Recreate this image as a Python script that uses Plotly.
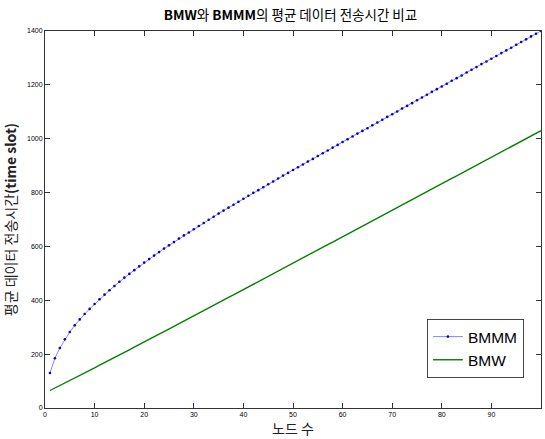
import plotly.graph_objects as go

nodes = list(range(1, 101))

bmmm = [130, 185, 223, 255, 282, 307, 329, 349, 368, 386,
        404, 421, 437, 453, 469, 484, 498, 512, 526, 540,
        553, 566, 579, 592, 604, 616, 629, 641, 652, 664,
        676, 687, 699, 710, 722, 733, 744, 755, 766, 777,
        788, 799, 809, 820, 831, 841, 852, 863, 873, 884,
        894, 904, 915, 925, 936, 946, 956, 967, 977, 988,
        998, 1008, 1019, 1029, 1039, 1050, 1060, 1070, 1081, 1091,
        1101, 1112, 1122, 1132, 1143, 1153, 1163, 1174, 1184, 1194,
        1204, 1215, 1225, 1235, 1246, 1256, 1266, 1277, 1287, 1297,
        1307, 1318, 1328, 1338, 1349, 1359, 1369, 1380, 1390, 1400]

bmw = [65, 74, 84, 93, 102, 112, 121, 130, 140, 149,
       159, 168, 178, 187, 197, 207, 216, 226, 235, 245,
       255, 264, 274, 284, 294, 303, 313, 323, 332, 342,
       352, 362, 371, 381, 391, 401, 411, 420, 430, 440,
       450, 460, 469, 479, 489, 499, 509, 518, 528, 538,
       548, 558, 567, 577, 587, 597, 607, 616, 626, 636,
       646, 656, 665, 675, 685, 695, 705, 714, 724, 734,
       744, 754, 764, 774, 784, 793, 803, 813, 823, 833,
       843, 853, 862, 872, 882, 892, 902, 911, 921, 931,
       941, 951, 961, 971, 981, 990, 1000, 1010, 1020, 1030]

x_ticks = list(range(0, 101, 10))
y_ticks = list(range(0, 1401, 200))

fig = go.Figure()
fig.add_trace(go.Scatter(
    x=nodes, y=bmmm, name="BMMM", mode="lines+markers",
    line=dict(color="#8585ff", width=1),
    marker=dict(color="#0000c8", size=2.6),
))
fig.add_trace(go.Scatter(
    x=nodes, y=bmw, name="BMW", mode="lines",
    line=dict(color="#008000", width=1.4),
))

axis_common = dict(
    showline=True, linecolor="#333333", linewidth=1, mirror="ticks",
    ticks="inside", ticklen=5, tickcolor="#333333",
    showgrid=False, zeroline=False,
    tickfont=dict(family="Liberation Sans, Arial, sans-serif", size=7, color="#000000"),
)

fig.update_layout(
    width=545, height=439,
    margin=dict(l=45, r=4, t=31, b=31),
    paper_bgcolor="white", plot_bgcolor="white",
    title=dict(
        text="<b>BMW</b>와 <b>BMMM</b>의 평균 데이터 전송시간 비교",
        x=0.533, xanchor="center", y=0.965, yanchor="middle",
        font=dict(family="Noto Sans CJK KR, sans-serif", size=13.5, color="#000000"),
    ),
    xaxis=dict(range=[0, 100], tickvals=x_ticks, **axis_common,
               title=dict(text="노드 수", standoff=6,
                          font=dict(family="Noto Sans CJK KR, sans-serif", size=14, color="#222222"))),
    yaxis=dict(range=[0, 1400], tickvals=y_ticks, **axis_common,
               title=dict(text="평균 데이터 전송시간<b>(time slot)</b>", standoff=12,
                          font=dict(family="Noto Sans CJK KR, sans-serif", size=14, color="#222222"))),
    legend=dict(
        x=0.77, y=0.236, xanchor="left", yanchor="top",
        bgcolor="white", bordercolor="#444444", borderwidth=1,
        font=dict(family="Liberation Sans, Arial, sans-serif", size=15.5, color="#000000"),
        itemwidth=30, tracegroupgap=4,
    ),
    showlegend=True,
)

fig.write_html("out.html", config={"displayModeBar": False},
               post_script="document.body.style.margin='0';")
